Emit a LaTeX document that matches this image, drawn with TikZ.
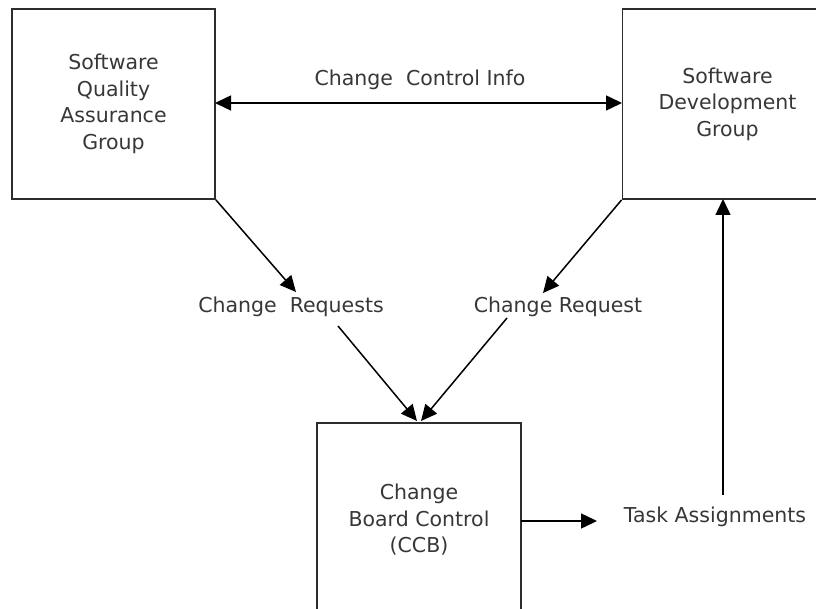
\documentclass[tikz,border=0pt]{standalone}
\usepackage{fontspec}
\setmainfont{DejaVu Sans}
\usetikzlibrary{arrows.meta}
\definecolor{txt}{RGB}{55,55,55}
\definecolor{edge}{RGB}{45,45,45}
\tikzset{
  box/.style={draw=edge, line width=1.8pt, align=center, inner sep=0pt, text=txt},
  lbl/.style={text=txt, inner sep=1pt},
  conn/.style={draw=black, line width=1.5pt, -{Triangle[length=16pt,width=15pt]}},
  dconn/.style={draw=black, line width=1.5pt, {Triangle[length=16pt,width=15pt]}-{Triangle[length=16pt,width=15pt]}},
}
\begin{document}
\begin{tikzpicture}[x=1pt,y=-1pt,font=\fontsize{20.5}{26.5}\selectfont]
\useasboundingbox (0,0) rectangle (816,609);
\clip (0,0) rectangle (816,609);
\node[box, minimum width=203pt, minimum height=190pt] (sqa) at (113.5,104) {Software\\Quality\\Assurance\\Group};
\node[box, minimum width=210pt, minimum height=190pt] (sdg) at (727.5,104) {Software\\Development\\Group};
\node[box, minimum width=204pt, minimum height=194pt] (ccb) at (419,520) {Change\\Board Control\\(CCB)};
\node[lbl] (cci) at (420,80) {Change\ \ Control Info};
\node[lbl] (crs) at (291,307) {Change\ \ Requests};
\node[lbl] (cr) at (558,307) {Change Request};
\node[lbl] (ta) at (715,517) {Task Assignments};
\coordinate (t1) at (296,292);
\coordinate (s1) at (338,326);
\coordinate (t2) at (543,293);
\coordinate (s2) at (507,318);
\coordinate (ccbL) at (417,421);
\coordinate (ccbR) at (421,421);
\coordinate (up0) at (723,495);
\coordinate (up1) at (723,199);
\coordinate (ra0) at (521,521);
\coordinate (ra1) at (597,521);
\coordinate (dl) at (215,103);
\coordinate (dr) at (622,103);
\draw[dconn] (dl) -- (dr);
\draw[conn] (sqa.south east) -- (t1);
\draw[conn] (s1) -- (ccbL);
\draw[conn] (sdg.south west) -- (t2);
\draw[conn] (s2) -- (ccbR);
\draw[conn] (up0) -- (up1);
\draw[conn] (ra0) -- (ra1);
\end{tikzpicture}
\end{document}
